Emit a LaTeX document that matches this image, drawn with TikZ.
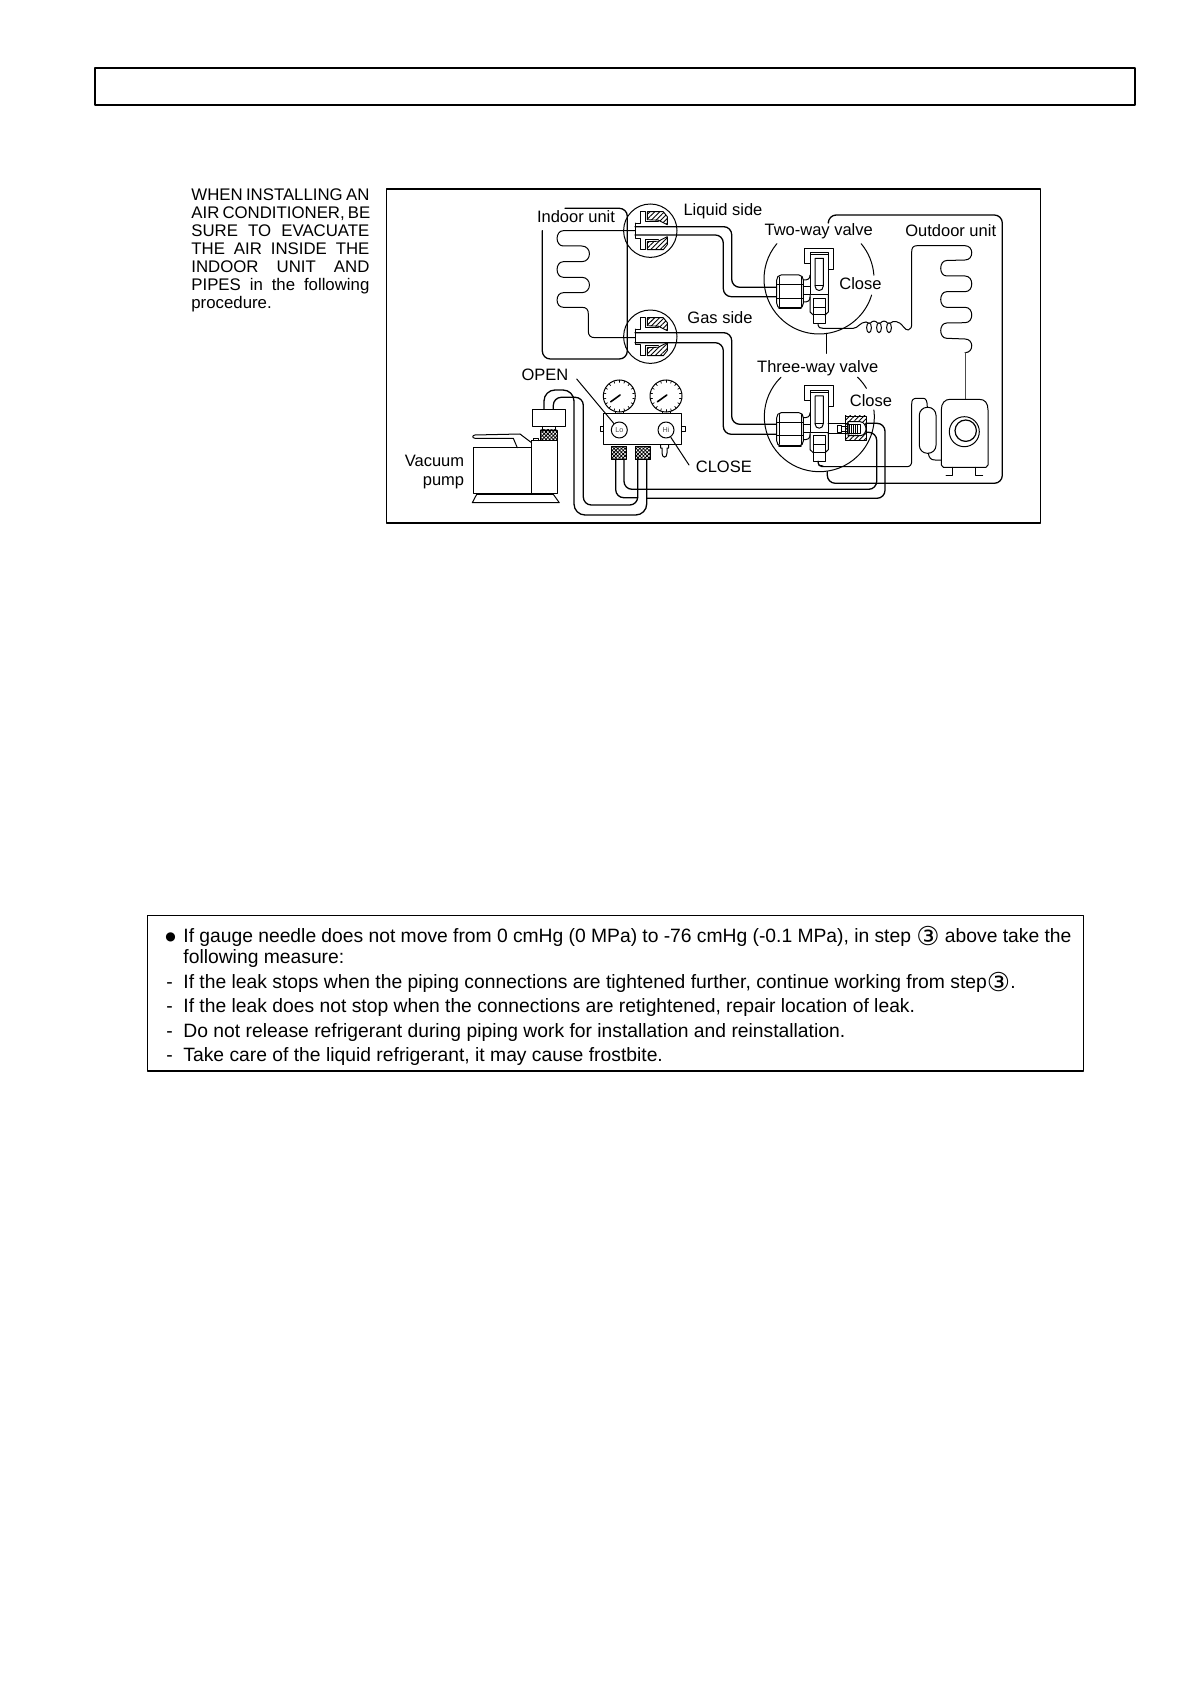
\documentclass[tikz,border=0pt]{standalone}
\usepackage{fontspec}
\setmainfont{Liberation Sans}
\newfontfamily\symfont{DejaVu Sans}
\usetikzlibrary{patterns.meta}
\newcommand{\stepthree}{\raisebox{-1.6pt}{\fontsize{13}{13}\symfont ③}}
\begin{document}
\begin{tikzpicture}[x=0.5pt, y=-0.5pt, line cap=round, line join=round,
  every node/.style={inner sep=0pt},
  pipe/.style={line width=0.65pt, rounded corners=4pt},
  thinline/.style={line width=0.5pt},
  box/.style={line width=0.7pt},
  hatched/.style={line width=0.45pt, pattern={Lines[angle=45,distance=1.7pt,line width=0.45pt]}},
  knurl/.style={line width=0.45pt, fill=white, postaction={pattern={Hatch[angle=45,distance=1.3pt,line width=0.4pt]}}},
  lbl/.style={font=\fontsize{8.25}{9}\selectfont},
  note/.style={anchor=base west, font=\fontsize{9.65}{10}\selectfont},
  gauge/.style={circle, draw, line width=0.5pt, fill=white, minimum size=16pt},
  knob/.style={circle, draw, line width=0.5pt, fill=white, minimum size=8pt, text=black!70, font=\fontsize{3.6}{4}\selectfont}]
  \useasboundingbox (0,0) rectangle (1190,1684);

  % Page boxes
  \draw[box] (95,68) rectangle (1135,105);
  \draw[line width=0.6pt] (386.5,189) rectangle (1040.7,523);
  \draw[line width=0.6pt] (147.3,915.7) rectangle (1083.7,1071);

  % Left text
  \node[anchor=north west, align=left, font=\fontsize{8.4}{9}\selectfont] (intro) at (191,188.5) {%
    \makebox[89pt][s]{WHEN INSTALLING AN}\\
    \makebox[89pt][s]{AIR CONDITIONER, BE}\\
    \makebox[89pt][s]{SURE TO EVACUATE}\\
    \makebox[89pt][s]{THE AIR INSIDE THE}\\
    \makebox[89pt][s]{INDOOR UNIT AND}\\
    \makebox[89pt][s]{PIPES in the following}\\
    procedure.};

  % Indoor unit
  \draw[pipe] (565,208.3) -- (627.3,208.3) -- (627.3,359) -- (542.3,359) -- (542.3,230.7);
  \draw[thinline] (635,230.7) -- (563.3,230.7)
    .. controls (555,230.7) and (555,246) .. (563.3,246) -- (581.7,246)
    .. controls (592,246) and (592,261.7) .. (581.7,261.7) -- (563.3,261.7)
    .. controls (555,261.7) and (555,277.3) .. (563.3,277.3) -- (581.7,277.3)
    .. controls (592,277.3) and (592,292.7) .. (581.7,292.7) -- (563.3,292.7)
    .. controls (555,292.7) and (555,307.3) .. (563.3,307.3) -- (581.7,307.3)
    .. controls (587,307.3) and (588.3,310) .. (588.3,314) -- (588.3,331)
    .. controls (588.3,335) and (590,337.7) .. (595,337.7) -- (635,337.7);

  % Flare joints
  \foreach \jy in {230.7,336.7} {
    \begin{scope}[shift={(650.3,\jy)}]
      \draw[thinline] (0,0) circle (13.35pt);
      \draw[thinline] (-15,-7.5) -- (-10,-7.5) -- (-10,-19) -- (-5,-19) -- (-5,-9) -- (8,-9);
      \draw[thinline] (-15,-7.5) -- (-15,7.5) -- (-10,7.5) -- (-10,19) -- (-5,19) -- (-5,9) -- (8,9);
      \draw[hatched] (-3,-19) -- (13,-19) -- (17,-14) -- (17,-6) -- (8,-10.5) -- (-3,-11) -- cycle;
      \draw[hatched] (-3,19) -- (13,19) -- (17,14) -- (17,6) -- (8,10.5) -- (-3,11) -- cycle;
    \end{scope}
  }

  % Refrigerant pipes
  \draw[pipe] (635,226.7) -- (731.7,226.7) -- (731.7,287.3) -- (776.7,287.3);
  \draw[pipe] (635,235) -- (723.3,235) -- (723.3,296.7) -- (776.7,296.7);
  \draw[pipe] (635,332.7) -- (731.7,332.7) -- (731.7,424.3) -- (776.7,424.3);
  \draw[pipe] (635,342.7) -- (723.3,342.7) -- (723.3,434.3) -- (776.7,434.3);

  % Valve circles
  \coordinate (twoway) at (819,279);
  \coordinate (threeway) at (819.3,416.7);
  \draw[thinline] (twoway) ++(140:27.5pt) arc[start angle=140, end angle=343, radius=27.5pt];
  \draw[thinline] (twoway) ++(4:27.5pt) arc[start angle=4, end angle=40, radius=27.5pt];
  \draw[thinline] (threeway) ++(134:27.5pt) arc[start angle=134, end angle=367, radius=27.5pt];
  \draw[thinline] (threeway) ++(31:27.5pt) arc[start angle=31, end angle=46, radius=27.5pt];
  \draw[thinline] (826.7,333.3) -- (826.7,353.3);

  % Valve bodies
  \foreach \vy in {279,416.7} {
    \begin{scope}[shift={(819,\vy)}]
      \draw[thinline, fill=white, rounded corners=1pt] (-40,-4) -- (-18,-4) -- (-15.7,-1) -- (-15.7,26.3) -- (-18,29.3) -- (-40,29.3) -- (-42.3,26.3) -- (-42.3,-1) -- cycle;
      \draw[thinline] (-39.7,-2) -- (-39.7,27.5) (-18,-2) -- (-18,27.5) (-42.3,6) -- (-15.7,6) (-42.3,19.3) -- (-15.7,19.3);
      \draw[line width=0.8pt] (-40,29.3) -- (-18,29.3);
      \draw[thinline] (-15.7,7.7) -- (-9,7.7) (-15.7,16) -- (-9,16);
      \draw[thinline] (-15.7,1) .. controls (-11,1) and (-9,0) .. (-9,-4);
      \draw[thinline] (-15.7,23) .. controls (-11,23) and (-9,22) .. (-9,18);
      \draw[thinline, fill=white] (-14.7,-15.7) -- (-14.7,-30.7) -- (14.3,-30.7) -- (14.3,-9.7) -- (9.3,-9.7) -- (9.3,-26.3) -- (-9,-26.3) -- (-9,-15.7) -- cycle;
      \draw[thinline, fill=white] (-9,-24) rectangle (9.3,16);
      \draw[thinline] (-4,-20.7) -- (-4,7) .. controls (-4,13) and (4.3,13) .. (4.3,7) -- (4.3,-20.7) -- cycle;
      \draw[thinline] (-4,7) -- (4.3,7);
      \draw[thinline] (-9,16) -- (-9,33) -- (-5.7,36) (9.3,16) -- (9.3,33) -- (6,36);
      \draw[thinline] (-5.7,19.3) rectangle (6,44.3);
      \draw[thinline] (-5.7,28.3) -- (6,28.3) (-5.7,36) -- (6,36);
      \draw[thinline] (-1,44.3) -- (-1,46) .. controls (-1,48.5) and (1,49.3) .. (4,49.3);
    \end{scope}
  }

  % Service port cap
  \draw[hatched] (845,416) rectangle (866.7,440.7);
  \draw[thinline, fill=white] (848,421.7) -- (860,421.7) .. controls (864,421.7) and (866,426) .. (866,429) .. controls (866,432) and (864,435.7) .. (860,435.7) -- (848,435.7) -- cycle;
  \draw[thinline] (828,423.3) -- (848,423.3) (828,433.3) -- (848,433.3);
  \draw[thinline] (837.3,426) rectangle (841.7,432.7);
  \draw[thinline] (841.7,427) -- (847.3,427) (841.7,431.7) -- (847.3,431.7);
  \draw[thinline] (847.3,424.3) rectangle (860,434);
  \foreach \tx in {849.5,851.5,...,858} {
    \draw[line width=0.35pt] (\tx,424.3) -- (\tx,434);
  }

  % Outdoor unit
  \draw[pipe] (828.3,221.7) -- (828.3,215) -- (1002.3,215) -- (1002.3,483.3) -- (827.3,483.3) -- (827.3,471.7);
  \draw[thinline] (823,328.3) -- (853.3,328.3) .. controls (858,328.3) and (860,322) .. (866,322);
  \foreach \cx in {869,879,889} {
    \draw[thinline] (\cx,327.7) ellipse (1.2pt and 2.5pt);
  }
  \draw[thinline] (866,322) -- (868,322.8) (870.5,323) .. controls (872.5,320.5) and (875.5,320.5) .. (877.5,323) (880.5,323) .. controls (882.5,320.5) and (885.5,320.5) .. (887.5,323);
  \draw[thinline] (890.5,323) .. controls (893,320.5) and (899,320.5) .. (903.3,326.7) .. controls (905,329) and (907,330.3) .. (908.3,330) .. controls (911,329.5) and (911.7,327) .. (911.7,323) -- (911.7,251.7) .. controls (911.7,248) and (913,245.7) .. (917,245.7) -- (965,245.7)
    .. controls (974,245.7) and (974,260) .. (965,260) -- (946.7,260.5)
    .. controls (938.7,260.5) and (938.7,276) .. (946.7,276) -- (965,276)
    .. controls (974,276) and (974,291.7) .. (965,291.7) -- (946.7,291.7)
    .. controls (938.7,291.7) and (938.7,307.3) .. (946.7,307.3) -- (965,307.3)
    .. controls (974,307.3) and (974,322.7) .. (965,322.7) -- (946.7,323)
    .. controls (938.7,323) and (938.7,338.3) .. (946.7,338.3) -- (965,339)
    .. controls (974,339) and (974,352.7) .. (965,352.7);
  \draw[thinline, black!70] (965,352.7) -- (965,399.3);

  % Compressor and receiver
  \draw[thinline] (941.3,410) .. controls (941.3,403) and (945,399.3) .. (950,399.3) -- (979,399.3) .. controls (985,399.3) and (988,403) .. (988,410) -- (988,465) -- (986,467.3) -- (943.3,467.3) -- (941.3,465) -- cycle;
  \draw[thinline] (964.3,431.7) circle (7.5pt);
  \draw[line width=0.6pt] (965.7,430.7) circle (5.35pt);
  \draw[thinline] (952.7,467.3) -- (952.7,475.7) -- (946,475.7);
  \draw[thinline] (975,467.3) -- (975,475.7) -- (982.7,475.7);
  \draw[thinline, rounded corners=4pt] (919.3,407.3) rectangle (936,453.3);
  \draw[thinline] (818.3,461.7) .. controls (818.3,465) and (819,466.7) .. (822,466.7) -- (906.7,466.7) .. controls (910,466.7) and (911.7,465) .. (911.7,461) -- (911.7,404) .. controls (911.7,400) and (913,398.3) .. (916.7,398.3) -- (923.3,398.3) .. controls (926,398.3) and (927.3,401) .. (927.3,407.3);
  \draw[thinline] (928.3,453.3) .. controls (929,458) and (931,460) .. (935,460) -- (941.3,460);

  % Hoses
  \draw[pipe] (865.7,423.3) -- (885,423.3) -- (885,498.3) -- (646.7,498.3);
  \draw[pipe] (866,432.3) -- (876.7,432.3) -- (876.7,489.3) -- (624,489.3) -- (624,459.3);
  \draw[pipe] (615.7,459.3) -- (615.7,497.7) -- (637.7,497.7);
  \draw[pipe] (637.7,459.3) -- (637.7,505) -- (583.3,505) -- (583.3,397.3) -- (553.3,397.3) -- (553.3,409);
  \draw[pipe, rounded corners=5.5pt] (646.7,459.3) -- (646.7,515) -- (574,515) -- (574,390) -- (544,390) -- (544,409);

  % Vacuum pump
  \draw[thinline, fill=white] (532.3,409.3) rectangle (565.7,426.7);
  \draw[thinline] (542,426.7) -- (542,430) (555.7,426.7) -- (555.7,430);
  \draw[knurl] (540.7,430) rectangle (557.3,440);
  \draw[thinline] (473.3,447.7) rectangle (531.7,493.3);
  \draw[thinline] (531.7,440.7) rectangle (557.3,493.3);
  \draw[thinline] (476.7,494.3) -- (553.3,494.3) -- (559.3,502.7) -- (472.3,502.7) -- cycle;
  \draw[thinline] (531,442.3) -- (520,434) -- (475,435) .. controls (472,435.5) and (472,438) .. (475,438.3) -- (513.3,438.3) -- (517.3,447.7);
  \draw[thinline] (533.3,440.7) -- (533.3,438.5) -- (538.3,438.5) -- (538.3,440.7);

  % Manifold
  \draw[thinline] (600,426.7) rectangle (603.3,431.7) (681.7,426.7) rectangle (685,431.7);
  \draw[thinline, fill=white] (603.3,413.3) rectangle (681.7,445);
  \draw[thinline] (615.3,410.7) rectangle (623.3,413.3) (662,410.7) rectangle (670,413.3);
  \draw[knurl] (611,446.7) rectangle (626.7,459.3);
  \draw[knurl] (635,446.7) rectangle (650.7,459.3);
  \draw[thinline] (660.5,445) -- (660.5,448) -- (662,448) -- (662,453) .. controls (662,458.5) and (667,458.5) .. (667,453) -- (667,448) -- (668.5,448) -- (668.5,445);
  \node[gauge] (logauge) at (619.3,396) {};
  \node[gauge] (higauge) at (666,396) {};
  \foreach \gg in {logauge,higauge} {
    \foreach \ang in {-170,-150,...,170} {
      \draw[line width=0.35pt] (\gg) ++(\ang:8pt) -- ++(\ang:-1.2pt);
    }
    \draw[line width=0.8pt] (\gg) ++(-4.3pt,-2.9pt) -- ++(4.7pt,3.4pt);
  }
  \node[knob] (lo) at (619.3,430) {Lo};
  \node[knob] (hi) at (666,430) {Hi};

  % Labels
  \coordinate (openend) at (576.7,379);
  \coordinate (closeend) at (689,465);
  \draw[thinline] (openend) -- (lo);
  \draw[thinline] (hi) -- (closeend);
  \node[lbl] (indoor) at (576,216.7) {Indoor unit};
  \node[lbl] (liquid) at (723,211) {Liquid side};
  \node[lbl] (twolbl) at (818.7,231) {Two-way valve};
  \node[lbl] (outdoor) at (950.7,231) {Outdoor unit};
  \node[lbl] (close1) at (860.5,283.3) {Close};
  \node[lbl] (gas) at (720,318) {Gas side};
  \node[lbl] (threelbl) at (817.7,368) {Three-way valve};
  \node[lbl] (close2) at (871,401) {Close};
  \node[lbl] (open) at (545,375) {OPEN};
  \node[lbl] (close) at (723.8,467) {CLOSE};
  \node[lbl, anchor=east] (vacuum) at (464.5,461) {Vacuum};
  \node[lbl, anchor=east] (pump) at (464.5,483) {pump};

  % Note text
  \node[note, font=\fontsize{6}{7}\symfont] (bullet) at (165,940) {●};
  \node[note] (line1) at (183,942) {\makebox[444pt][s]{If gauge needle does not move from 0 cmHg (0 MPa) to -76 cmHg (-0.1 MPa), in step \stepthree{} above take the}};
  \node[note] (line2) at (183,963) {following measure:};
  \node[note] (dash3) at (166,988) {-};
  \node[note] (line3) at (183,988) {If the leak stops when the piping connections are tightened further, continue working from step\stepthree.};
  \node[note] (dash4) at (166,1012) {-};
  \node[note] (line4) at (183,1012) {If the leak does not stop when the connections are retightened, repair location of leak.};
  \node[note] (dash5) at (166,1037) {-};
  \node[note] (line5) at (183,1037) {Do not release refrigerant during piping work for installation and reinstallation.};
  \node[note] (dash6) at (166,1061) {-};
  \node[note] (line6) at (183,1061) {Take care of the liquid refrigerant, it may cause frostbite.};
\end{tikzpicture}
\end{document}
